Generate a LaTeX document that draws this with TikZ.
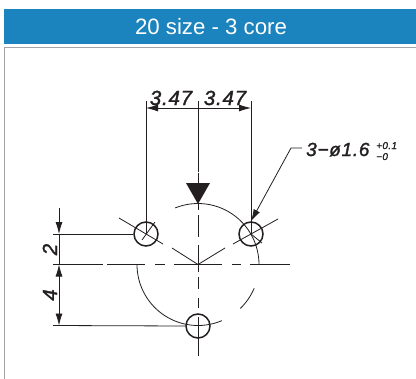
\documentclass[tikz,border=0pt]{standalone}
\usepackage{fontspec}
\setmainfont{Liberation Sans}
\newfontfamily\dimfont[LetterSpace=4,FakeBold=1.5,ItalicFont={Liberation Sans Italic}]{Liberation Sans}
\usetikzlibrary{arrows.meta}
\definecolor{hdr}{RGB}{27,131,189}
\definecolor{ink}{RGB}{35,31,32}
\definecolor{framec}{RGB}{165,165,165}
\tikzset{
  thin line/.style={draw=ink,line width=0.8bp},
  hole/.style={circle,draw=ink,line width=1.5bp,minimum size=24bp,inner sep=0pt},
  dimtext/.style={text=ink,inner sep=0pt,font=\fontsize{20.5}{21}\selectfont\dimfont\itshape},
  leadtext/.style={text=ink,inner sep=0pt,font=\fontsize{19}{21}\selectfont\dimfont\itshape},
  tol/.style={text=ink,inner sep=0pt,font=\fontsize{10}{10}\selectfont\dimfont\itshape},
  dimarrow/.style={-{Latex[length=12bp,width=7bp]}},
}
\begin{document}
\begin{tikzpicture}[x=1bp,y=-1bp]
\useasboundingbox (0,0) rectangle (416,379);
\fill[white] (0,0) rectangle (416,379);
\fill[hdr] (4,9) rectangle (416,44);
\node[text=white,inner sep=0pt,font=\fontsize{22.3}{22}\selectfont] (title) at (211,26.5) {20 size - 3 core};
\draw[framec,line width=1bp] (4.5,379) -- (4.5,47.5) -- (416,47.5);
% key points
\coordinate (c) at (198,264.5);
\coordinate (hl) at (146,234);
\coordinate (hr) at (251,234);
\coordinate (hb) at (198,326);
% pitch circle pieces (y axis points down, so angles are clockwise)
\draw[thin line] (c) ++(-112:61) arc[start angle=-112,end angle=0,radius=61];
\draw[thin line] (c) ++(23:61) arc[start angle=23,end angle=46,radius=61];
\draw[thin line] (c) ++(67:61) arc[start angle=67,end angle=180,radius=61];
% horizontal centre line
\foreach \a/\b in {53/103,107/145,155/165,174/222,232/241,250/290}
  \draw[thin line] (\a,264.5) -- (\b,264.5);
% vertical centre line
\foreach \a/\b in {101/172,173/183,203/210,215/237,245/264.5,264.5/272,277/289,298/308,317/356}
  \draw[thin line] (198,\a) -- (198,\b);
\fill[ink] (186,183) -- (210,183) -- (198,204) -- cycle;
% radial lines
\draw[thin line] (c) -- (172,248);
\draw[thin line] (c) -- (225,248);
\draw[thin line] (119,218) -- (163,244);
\draw[thin line] (155,222) -- (142,240);
\draw[thin line] (233,244) -- (278,219);
\draw[thin line] (251,234) -- (262,243);
% holes
\node[hole] (nl) at (hl) {};
\node[hole] (nr) at (hr) {};
\node[hole] (nb) at (hb) {};
% top dimension
\coordinate (e1) at (146,101);
\coordinate (e2) at (251,101);
\draw[thin line] (e1) -- (hl);
\draw[thin line] (e2) -- (hr);
\draw[thin line,dimarrow] (198,108) -- (146,108);
\draw[thin line,dimarrow] (198,108) -- (251,108);
\node[dimtext,anchor=base] (d1) at (171,105) {3.47};
\node[dimtext,anchor=base] (d2) at (225,105) {3.47};
% left dimension
\draw[thin line] (53,234) -- (nl.west);
\draw[thin line] (53,325.5) -- (nb.west);
\coordinate (v0) at (59,208);
\draw[thin line,dimarrow] (v0) -- (59,234);
\draw[thin line,dimarrow] (59,290) -- (59,264.5);
\draw[thin line,dimarrow] (59,290) -- (59,325.5);
\draw[thin line] (59,234) -- (59,264.5);
\node[dimtext,rotate=90,anchor=base] (d3) at (57,249.5) {2};
\node[dimtext,rotate=90,anchor=base] (d4) at (57,295) {4};
% leader
\coordinate (l1) at (302,148);
\draw[thin line,dimarrow] (l1) -- (291,148) -- (nr.north);
\node[leadtext,anchor=base west] (t) at (306,156) {3−ø1.6};
\node[tol,anchor=base west] (t1) at (376,149) {+0.1};
\node[tol,anchor=base west] (t2) at (376,160) {−0};
\end{tikzpicture}
\end{document}
